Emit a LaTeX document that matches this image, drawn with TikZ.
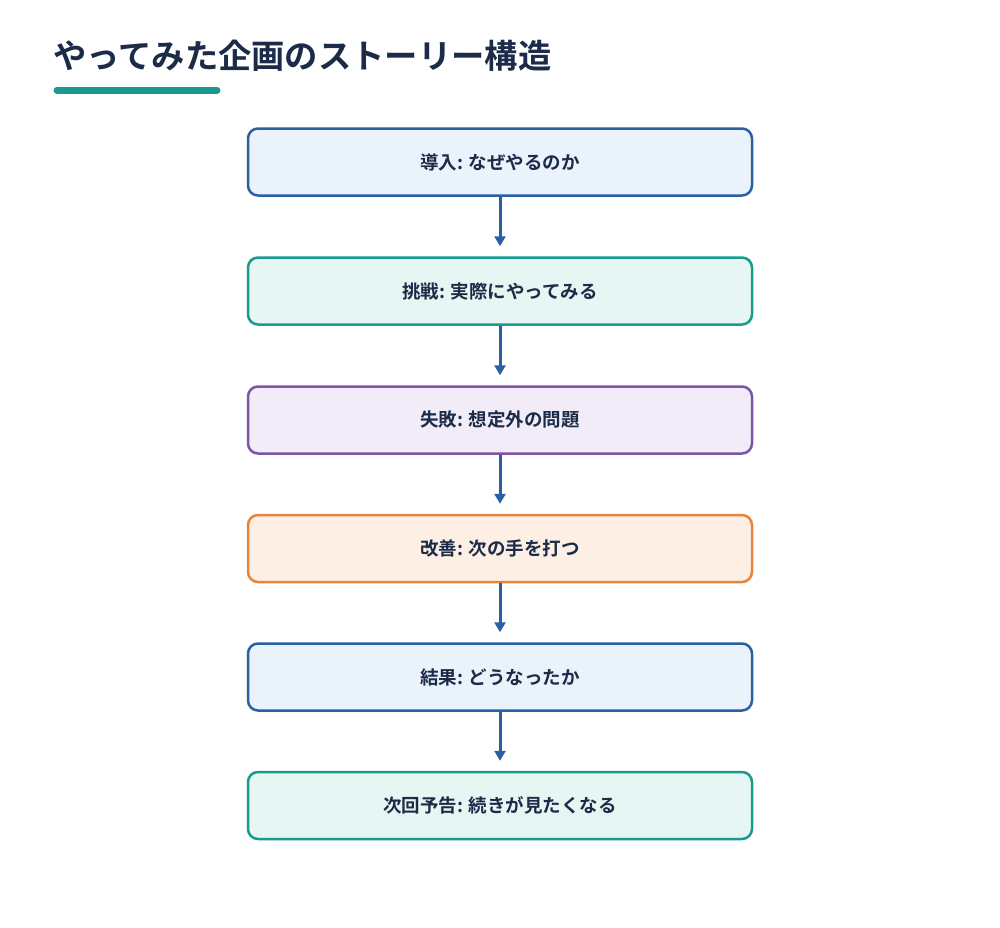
\documentclass[tikz,border=0pt]{standalone}
\usepackage{fontspec}
\setmainfont{Noto Sans CJK JP}[BoldFont={* Bold}]
\usetikzlibrary{arrows.meta}
\definecolor{txt}{HTML}{1B2B48}
\definecolor{bl}{HTML}{2B5FA3}\definecolor{blf}{HTML}{EAF2FB}
\definecolor{tl}{HTML}{1A9A8E}\definecolor{tlf}{HTML}{E6F6F3}
\definecolor{pu}{HTML}{7A55A8}\definecolor{puf}{HTML}{F1ECF7}
\definecolor{or}{HTML}{E8833A}\definecolor{orf}{HTML}{FDEFE3}
\tikzset{box/.style={draw=#1,fill=#1f,line width=2.5pt,rounded corners=10pt,minimum width=504pt,minimum height=67pt,text=txt,font=\bfseries\fontsize{18.5}{22}\selectfont},
arr/.style={draw=bl,line width=3pt,shorten >=10pt,-{Triangle[length=10pt,width=11pt]}}}
\begin{document}
\begin{tikzpicture}[x=1pt,y=-1pt]
\useasboundingbox[fill=white] (0,0) rectangle (1000,927);
\node[anchor=west,text=txt,font=\bfseries\fontsize{33.3}{37}\selectfont] (title) at (50,56) {やってみた企画のストーリー構造};
\draw[tl,line width=7pt,line cap=round] (57,90) coordinate (u1) -- (217,90) coordinate (u2);
\node[box=bl] (a) at (500,162) {導入: なぜやるのか};
\node[box=tl] (b) at (500,291) {挑戦: 実際にやってみる};
\node[box=pu] (c) at (500,420) {失敗: 想定外の問題};
\node[box=or] (d) at (500,548.5) {改善: 次の手を打つ};
\node[box=bl] (e) at (500,677) {結果: どうなったか};
\node[box=tl] (f) at (500,805.5) {次回予告: 続きが見たくなる};
\foreach \p/\q in {a/b,b/c,c/d,d/e,e/f} \draw[arr] (\p.south) -- (\q.north);
\end{tikzpicture}
\end{document}
